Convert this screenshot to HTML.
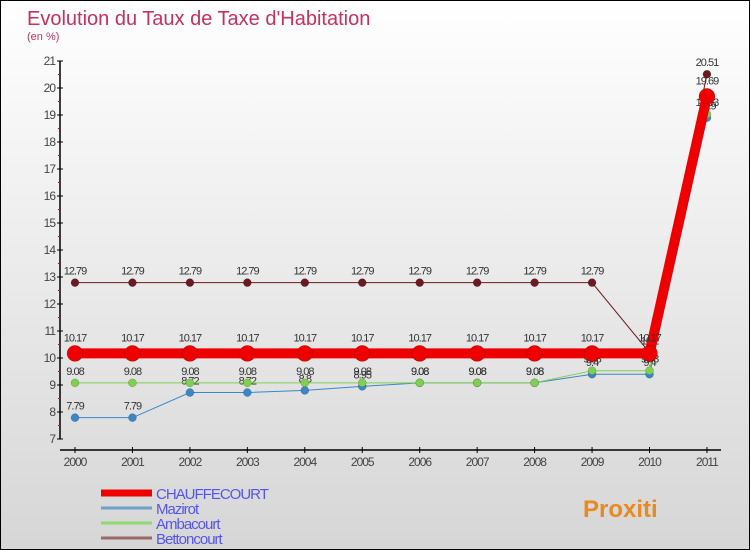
<!DOCTYPE html>
<html><head><meta charset="utf-8"><style>
body{margin:0}
#c{width:748px;height:548px;border:1px solid #000;background:linear-gradient(#fff,#d6d6d6);position:relative;font-family:"Liberation Sans",sans-serif;overflow:hidden}
</style></head><body>
<div id="c">
<svg id="s" width="748" height="548" xmlns="http://www.w3.org/2000/svg" style="position:absolute;left:0;top:0">
<text x="26" y="24" font-size="20" fill="#c8305f">Evolution du Taux de Taxe d'Habitation</text>
<text x="26" y="39" font-size="11" fill="#c8305f">(en %)</text>
</svg>
</div>
<script>
const years=["2000","2001","2002","2003","2004","2005","2006","2007","2008","2009","2010","2011"];
const chauffecourt=[10.17,10.17,10.17,10.17,10.17,10.17,10.17,10.17,10.17,10.17,10.17,19.69];
const mazirot=[7.79,7.79,8.72,8.72,8.8,8.95,9.08,9.08,9.08,9.4,9.4,18.9];
const ambacourt=[9.08,9.08,9.08,9.08,9.08,9.08,9.08,9.08,9.08,9.53,9.53,19.03];
const bettoncourt=[12.79,12.79,12.79,12.79,12.79,12.79,12.79,12.79,12.79,12.79,10.2,20.51];
const yTicks=[7,8,9,10,11,12,13,14,15,16,17,18,19,20,21];
const s=document.getElementById('s');const NS="http://www.w3.org/2000/svg";
const X=i=>74+i*57.45, Y=v=>60+(21-v)*27;
function el(t,a,p){const e=document.createElementNS(NS,t);for(const k in a)e.setAttribute(k,a[k]);(p||s).appendChild(e);return e;}
let ax=el('line',{x1:59,y1:60,x2:59,y2:438,stroke:'#000','stroke-width':1.5});


let xa=el('line',{x1:59,y1:449,x2:720,y2:449,stroke:'#000','stroke-width':1.5});


yTicks.forEach(v=>{
 el('line',{x1:56,x2:62,y1:Y(v),y2:Y(v),stroke:'#000'});
 if(v<21) el('line',{x1:57,x2:59,y1:Y(v+0.5),y2:Y(v+0.5),stroke:'#e00'});
 const t=el('text',{x:54,y:Y(v)+4,'font-size':12,'text-anchor':'end',fill:'#444','letter-spacing':-1});t.textContent=v;
 
 
});
years.forEach((y,i)=>{
 el('line',{x1:X(i),x2:X(i),y1:446,y2:452,stroke:'#000'});
 const t=el('text',{x:X(i),y:465,'font-size':12,'text-anchor':'middle',fill:'#444','letter-spacing':-1});t.textContent=y;
 
 
});
function series(d,color,w,r,name){
 const g=el('g',{});
 
 
 el('polyline',{points:d.map((v,i)=>X(i)+','+Y(v)).join(' '),fill:'none',stroke:color,'stroke-width':w},g);
 d.forEach((v,i)=>{
  const c=el('circle',{cx:X(i),cy:Y(v),r:r,fill:color,stroke:'rgba(0,0,0,0.3)','stroke-width':0.5},g);
  
  
  const t=el('text',{x:X(i),y:Y(v)-8-(r>5?4:0),'font-size':11,'text-anchor':'middle',fill:'#333','letter-spacing':-1},g);t.textContent=v.toFixed(2).replace(/0$/,'').replace(/\.0?$/,'');
  
  
 });
}
series(bettoncourt,'#6b1a22',1,4,'series-bettoncourt');
series(mazirot,'#3a87c8',1,4,'series-mazirot');
series(ambacourt,'#80d050',1,4,'series-ambacourt');
series(chauffecourt,'#ee0000',10,8,'series-chauffecourt');
const legend=[['CHAUFFECOURT','#ee0000',7],['Mazirot','#6fa0c8',3],['Ambacourt','#90d870',3],['Bettoncourt','#9a6a6a',3]];
legend.forEach((l,i)=>{
 const y=492+i*15;
 const g=el('g',{});
 
 
 el('line',{x1:100,x2:151,y1:y,y2:y,stroke:l[1],'stroke-width':l[2]},g);
 const t=el('text',{x:155,y:y+6,'font-size':15,fill:'#5555ee','letter-spacing':-1},g);t.textContent=l[0];
});
const p=el('text',{x:582,y:516,'font-size':24,'font-weight':'bold',fill:'#e98a20'});p.textContent='Proxiti';


</script>
</body></html>
